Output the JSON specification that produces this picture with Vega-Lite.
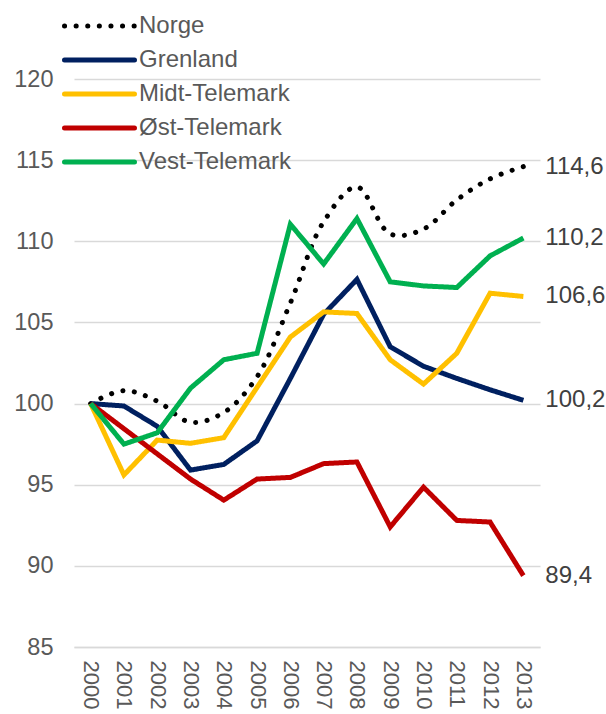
{
  "$schema": "https://vega.github.io/schema/vega-lite/v6.json",
  "autosize": {"type": "none"},
  "padding": {"left": 74, "top": 79, "right": 66, "bottom": 67},
  "width": 466,
  "height": 568,
  "background": "white",
  "config": {
    "view": {"stroke": null},
    "font": "Liberation Sans",
    "locale": {"number": {"decimal": ",", "thousands": " ", "grouping": [3], "currency": ["", " kr"]}}
  },
  "data": {"values": [
    {"year": "2000", "series": "Norge", "value": 100},
    {"year": "2001", "series": "Norge", "value": 100.8},
    {"year": "2002", "series": "Norge", "value": 100.15},
    {"year": "2003", "series": "Norge", "value": 98.85},
    {"year": "2004", "series": "Norge", "value": 99.45},
    {"year": "2005", "series": "Norge", "value": 101.65},
    {"year": "2006", "series": "Norge", "value": 106.2},
    {"year": "2007", "series": "Norge", "value": 111.2},
    {"year": "2008", "series": "Norge", "value": 113.35},
    {"year": "2009", "series": "Norge", "value": 110.45},
    {"year": "2010", "series": "Norge", "value": 110.75},
    {"year": "2011", "series": "Norge", "value": 112.55},
    {"year": "2012", "series": "Norge", "value": 113.85},
    {"year": "2013", "series": "Norge", "value": 114.6},
    {"year": "2000", "series": "Grenland", "value": 100},
    {"year": "2001", "series": "Grenland", "value": 99.85},
    {"year": "2002", "series": "Grenland", "value": 98.6},
    {"year": "2003", "series": "Grenland", "value": 95.9},
    {"year": "2004", "series": "Grenland", "value": 96.25},
    {"year": "2005", "series": "Grenland", "value": 97.7},
    {"year": "2006", "series": "Grenland", "value": 101.55},
    {"year": "2007", "series": "Grenland", "value": 105.5},
    {"year": "2008", "series": "Grenland", "value": 107.65},
    {"year": "2009", "series": "Grenland", "value": 103.5},
    {"year": "2010", "series": "Grenland", "value": 102.3},
    {"year": "2011", "series": "Grenland", "value": 101.55},
    {"year": "2012", "series": "Grenland", "value": 100.85},
    {"year": "2013", "series": "Grenland", "value": 100.2},
    {"year": "2000", "series": "Midt-Telemark", "value": 100},
    {"year": "2001", "series": "Midt-Telemark", "value": 95.6},
    {"year": "2002", "series": "Midt-Telemark", "value": 97.75},
    {"year": "2003", "series": "Midt-Telemark", "value": 97.55},
    {"year": "2004", "series": "Midt-Telemark", "value": 97.9},
    {"year": "2005", "series": "Midt-Telemark", "value": 101.0},
    {"year": "2006", "series": "Midt-Telemark", "value": 104.1},
    {"year": "2007", "series": "Midt-Telemark", "value": 105.65},
    {"year": "2008", "series": "Midt-Telemark", "value": 105.55},
    {"year": "2009", "series": "Midt-Telemark", "value": 102.7},
    {"year": "2010", "series": "Midt-Telemark", "value": 101.2},
    {"year": "2011", "series": "Midt-Telemark", "value": 103.1},
    {"year": "2012", "series": "Midt-Telemark", "value": 106.8},
    {"year": "2013", "series": "Midt-Telemark", "value": 106.6},
    {"year": "2000", "series": "Øst-Telemark", "value": 100},
    {"year": "2001", "series": "Øst-Telemark", "value": 98.45},
    {"year": "2002", "series": "Øst-Telemark", "value": 96.9},
    {"year": "2003", "series": "Øst-Telemark", "value": 95.35},
    {"year": "2004", "series": "Øst-Telemark", "value": 94.05},
    {"year": "2005", "series": "Øst-Telemark", "value": 95.35},
    {"year": "2006", "series": "Øst-Telemark", "value": 95.45},
    {"year": "2007", "series": "Øst-Telemark", "value": 96.3},
    {"year": "2008", "series": "Øst-Telemark", "value": 96.4},
    {"year": "2009", "series": "Øst-Telemark", "value": 92.4},
    {"year": "2010", "series": "Øst-Telemark", "value": 94.85},
    {"year": "2011", "series": "Øst-Telemark", "value": 92.8},
    {"year": "2012", "series": "Øst-Telemark", "value": 92.7},
    {"year": "2013", "series": "Øst-Telemark", "value": 89.4},
    {"year": "2000", "series": "Vest-Telemark", "value": 100},
    {"year": "2001", "series": "Vest-Telemark", "value": 97.5},
    {"year": "2002", "series": "Vest-Telemark", "value": 98.2},
    {"year": "2003", "series": "Vest-Telemark", "value": 100.95},
    {"year": "2004", "series": "Vest-Telemark", "value": 102.7},
    {"year": "2005", "series": "Vest-Telemark", "value": 103.1},
    {"year": "2006", "series": "Vest-Telemark", "value": 111.05},
    {"year": "2007", "series": "Vest-Telemark", "value": 108.6},
    {"year": "2008", "series": "Vest-Telemark", "value": 111.4},
    {"year": "2009", "series": "Vest-Telemark", "value": 107.5},
    {"year": "2010", "series": "Vest-Telemark", "value": 107.25},
    {"year": "2011", "series": "Vest-Telemark", "value": 107.15},
    {"year": "2012", "series": "Vest-Telemark", "value": 109.1},
    {"year": "2013", "series": "Vest-Telemark", "value": 110.2}
  ]},
  "encoding": {
    "x": {
      "field": "year", "type": "ordinal", "sort": null,
      "scale": {"type": "point", "padding": 0.5},
      "axis": {
        "title": null, "labelAngle": 90, "labelFontSize": 22, "labelColor": "#595959",
        "ticks": false, "labelPadding": 13, "domainColor": "#d9d9d9", "domainWidth": 1.3,
        "grid": false
      }
    },
    "y": {
      "field": "value", "type": "quantitative",
      "scale": {"domain": [85, 120], "nice": false, "zero": false},
      "axis": {
        "title": null, "values": [85, 90, 95, 100, 105, 110, 115, 120],
        "labelFontSize": 23.5, "labelColor": "#595959", "labelPadding": 21,
        "ticks": false, "domain": false, "grid": true, "gridColor": "#d9d9d9", "gridWidth": 1.3
      }
    }
  },
  "layer": [
    {
      "transform": [{"filter": "datum.series === 'Norge'"}],
      "mark": {"type": "line", "interpolate": "catmull-rom", "strokeWidth": 5, "strokeCap": "round"},
      "encoding": {
        "color": {"field": "series", "type": "nominal", "sort": null,
          "scale": {"domain": ["Norge", "Grenland", "Midt-Telemark", "Øst-Telemark", "Vest-Telemark"],
                    "range": ["#000000", "#002060", "#FFC000", "#C00000", "#00B050"]},
          "legend": {
            "title": null, "orient": "none", "legendX": -12, "legendY": -70,
            "symbolType": "stroke", "symbolSize": 4900, "symbolStrokeWidth": 5,
            "labelFontSize": 24, "labelColor": "#595959", "labelOffset": 2, "rowPadding": 0, "clipHeight": 33.8,
            "encode": {"symbols": {"update": {"strokeCap": {"value": "round"}}}}
          }
        },
        "strokeDash": {"field": "series", "type": "nominal", "sort": null,
          "scale": {"domain": ["Norge", "Grenland", "Midt-Telemark", "Øst-Telemark", "Vest-Telemark"],
                    "range": [[0.1, 11.5], [1, 0], [1, 0], [1, 0], [1, 0]]},
          "legend": {
            "title": null, "orient": "none", "legendX": -12, "legendY": -70,
            "symbolType": "stroke", "symbolSize": 4900, "symbolStrokeWidth": 5,
            "labelFontSize": 24, "labelColor": "#595959", "labelOffset": 2, "rowPadding": 0, "clipHeight": 33.8,
            "encode": {"symbols": {"update": {"strokeCap": {"value": "round"}}}}
          }
        }
      }
    },
    {
      "transform": [{"filter": "datum.series !== 'Norge'"}],
      "mark": {"type": "line", "strokeWidth": 5, "strokeJoin": "miter"},
      "encoding": {
        "color": {"field": "series", "type": "nominal", "sort": null},
        "strokeDash": {"field": "series", "type": "nominal", "sort": null},
        "detail": {"field": "series"}
      }
    },
    {
      "transform": [{"filter": "datum.year === '2013'"}],
      "mark": {"type": "text", "align": "left", "baseline": "middle", "dx": 22, "fontSize": 24, "color": "#404040"},
      "encoding": {
        "text": {"field": "value", "type": "quantitative", "format": ".1f"}
      }
    }
  ]
}
